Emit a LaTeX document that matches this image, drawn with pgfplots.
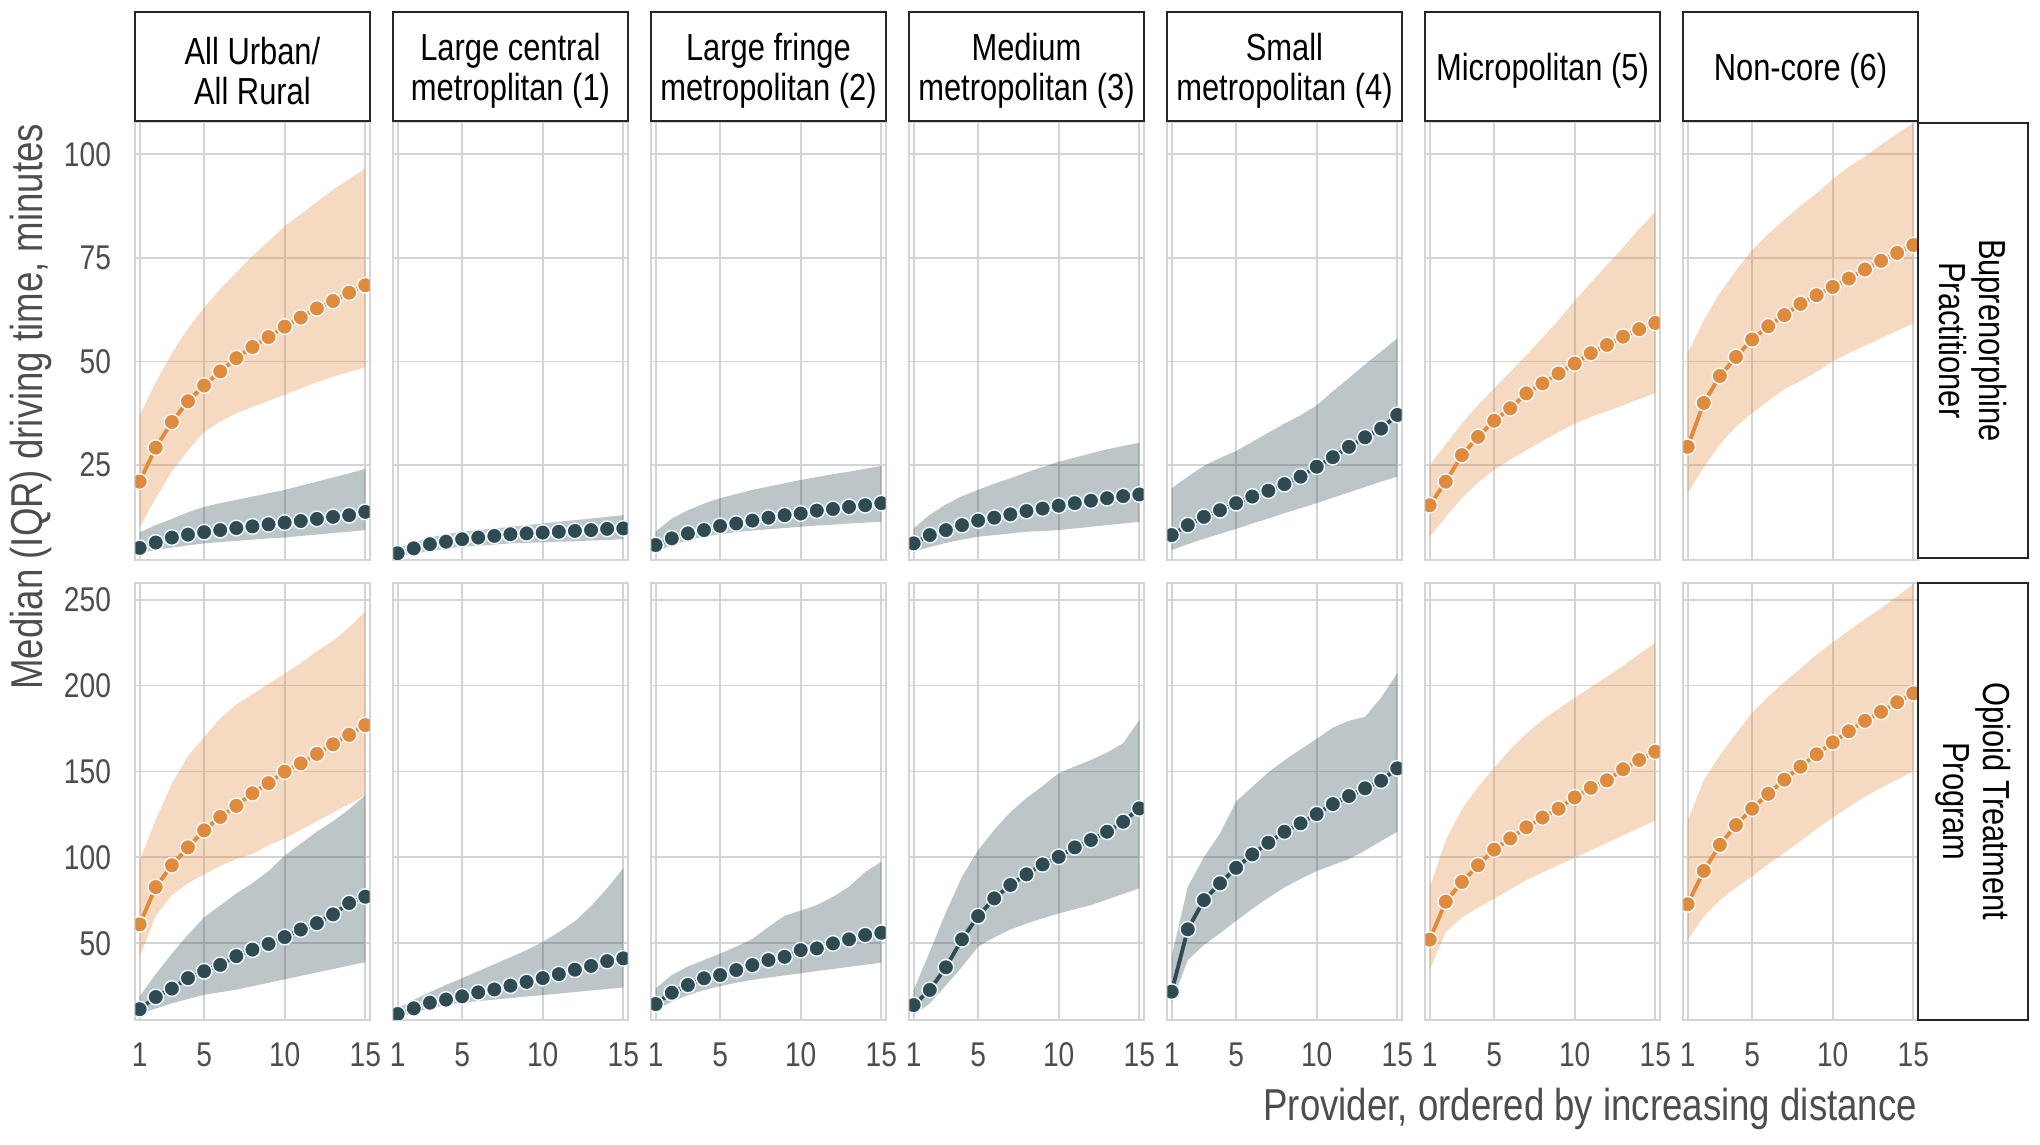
\documentclass[border=0pt]{standalone}
\usepackage{pgfplots}
\pgfplotsset{compat=1.18}
\usepackage{pgfplotstable}
\usepgfplotslibrary{fillbetween}
\usepackage{fontspec}
\setmainfont{Liberation Sans}[FakeStretch=0.82]
\setsansfont{Liberation Sans}[FakeStretch=0.82]

\definecolor{dk}{HTML}{2F4A50}
\definecolor{org}{HTML}{E08A3C}
\definecolor{gridc}{HTML}{D4D4D4}
\definecolor{txt}{HTML}{4D4D4D}

\newcommand\ticksz{\fontsize{10.3}{12}\selectfont}
\newcommand\stripsz{\fontsize{11.3}{12}\selectfont}
\newcommand\titlesz{\fontsize{13.4}{15}\selectfont}

% ---------------- Buprenorphine Practitioner (top row) ----------------
\pgfplotstableread{
x med lo hi
1 21.0 10.0 37.0
2 29.2 17.0 45.0
3 35.4 23.5 52.0
4 40.4 28.5 58.0
5 44.2 33.0 63.0
6 47.6 35.5 67.5
7 50.8 37.5 71.5
8 53.5 39.0 75.5
9 55.9 40.5 79.0
10 58.4 42.0 82.7
11 60.6 43.5 85.5
12 62.8 45.0 88.5
13 64.6 46.3 91.5
14 66.6 47.5 94.0
15 68.4 48.6 96.6
}\bpR
\pgfplotstableread{
x med lo hi
1 5.0 3.8 8.8
2 6.3 4.5 10.5
3 7.5 5.1 12.0
4 8.2 5.6 13.6
5 8.8 6.1 14.9
6 9.3 6.4 15.8
7 9.8 6.7 16.6
8 10.2 7.0 17.4
9 10.7 7.3 18.2
10 11.1 7.5 19.0
11 11.5 7.9 20.0
12 12.0 8.2 21.0
13 12.5 8.6 22.0
14 12.9 8.9 23.0
15 13.7 9.3 24.1
}\bpU
\pgfplotstableread{
x med lo hi
1 3.7 2.9 4.9
2 4.9 3.6 6.3
3 5.9 4.3 7.5
4 6.5 4.8 8.3
5 7.1 5.3 8.9
6 7.5 5.5 9.3
7 7.9 5.8 9.7
8 8.3 6.1 10.1
9 8.5 6.2 10.5
10 8.7 6.4 10.9
11 8.9 6.5 11.3
12 9.1 6.6 11.7
13 9.3 6.8 12.1
14 9.6 6.9 12.5
15 9.7 7.1 12.9
}\bpB
\pgfplotstableread{
x med lo hi
1 5.7 4.1 8.9
2 7.3 5.6 12.1
3 8.5 6.9 14.1
4 9.3 7.7 15.7
5 10.3 8.3 17.0
6 10.9 8.8 18.0
7 11.6 9.2 19.0
8 12.3 9.5 19.8
9 12.9 9.8 20.6
10 13.3 10.1 21.4
11 14.0 10.4 22.1
12 14.4 10.6 22.8
13 14.9 10.9 23.4
14 15.3 11.1 24.1
15 15.8 11.3 24.8
}\bpC
\pgfplotstableread{
x med lo hi
1 6.1 4.1 9.7
2 8.1 5.2 13.0
3 9.3 6.2 15.5
4 10.5 7.0 17.5
5 11.6 7.7 19.0
6 12.3 8.1 20.5
7 13.1 8.5 21.8
8 13.9 8.9 23.2
9 14.5 9.1 24.5
10 15.2 9.3 25.8
11 15.8 9.7 26.8
12 16.4 10.1 27.8
13 17.0 10.5 28.8
14 17.5 10.9 29.6
15 17.9 11.3 30.4
}\bpD
\pgfplotstableread{
x med lo hi
1 8.1 4.5 19.4
2 10.5 5.9 22.2
3 12.5 7.2 24.8
4 14.1 8.4 26.7
5 15.8 9.6 28.4
6 17.4 10.9 30.6
7 18.8 12.1 32.8
8 20.4 13.4 35.0
9 22.2 14.6 37.0
10 24.6 15.8 39.4
11 26.9 17.1 42.8
12 29.4 18.4 46.0
13 31.7 19.7 49.3
14 33.8 21.0 52.4
15 37.1 22.2 55.6
}\bpE
\pgfplotstableread{
x med lo hi
1 15.3 7.7 25.0
2 21.0 12.5 30.0
3 27.4 17.0 35.0
4 31.8 20.8 39.5
5 35.7 23.8 43.5
6 38.7 26.3 47.5
7 42.3 28.6 51.5
8 44.7 30.8 55.7
9 47.1 33.0 60.0
10 49.5 35.0 64.7
11 52.0 36.6 69.0
12 54.0 38.0 73.3
13 56.0 39.4 77.5
14 57.8 40.9 82.0
15 59.3 42.3 86.1
}\bpF
\pgfplotstableread{
x med lo hi
1 29.4 18.2 52.0
2 40.0 24.5 60.0
3 46.5 30.0 66.5
4 51.1 34.3 72.0
5 55.3 37.5 76.9
6 58.5 40.5 80.8
7 61.2 43.3 84.3
8 63.9 45.3 87.5
9 66.0 47.5 90.6
10 68.0 50.0 94.0
11 70.0 52.0 97.0
12 72.2 53.8 99.5
13 74.3 55.6 102.3
14 76.2 57.4 105.0
15 78.1 59.2 107.5
}\bpG

% ---------------- Opioid Treatment Program (bottom row) ----------------
\pgfplotstableread{
x med lo hi
1 61.0 42 98
2 82.7 66 122
3 95.4 78 143
4 105.8 85 159
5 115.7 90 170
6 123.5 95 181
7 130.0 99 189
8 137.3 102 195
9 143.2 107 201
10 149.9 111 207
11 154.7 116 213
12 160.2 121 220
13 165.8 126 226
14 171.3 131 234
15 177.0 136 243
}\otR
\pgfplotstableread{
x med lo hi
1 11.6 9 19
2 18.7 12 32
3 23.6 15 44
4 29.7 17.5 55
5 33.7 20 65
6 37.4 21.5 72
7 42.5 23 79
8 46.3 25 85
9 49.6 27 92
10 53.6 29 101
11 58.0 31 108
12 61.7 33 115
13 66.8 35 121
14 73.4 37 128
15 77.1 39 136
}\otU
\pgfplotstableread{
x med lo hi
1 8.8 6.6 12
2 12.1 9.5 17
3 15.4 12 21.5
4 17.2 14 25.8
5 19.1 15.4 29.7
6 21.4 16.3 33.7
7 23.1 17.2 37.8
8 25.3 18.1 41.9
9 27.5 19 46
10 29.7 19.8 50.7
11 32.0 20.7 56.5
12 34.6 21.6 62.8
13 36.8 22.5 71.6
14 39.6 23.4 82
15 41.2 24.2 93.7
}\otB
\pgfplotstableread{
x med lo hi
1 14.6 11.1 23.7
2 21.2 16 31.5
3 25.7 19.8 36.5
4 29.6 22.8 40.2
5 31.5 25 44
6 34.4 27 48
7 37.3 28.7 52.5
8 40.2 30 59.5
9 42.1 31.3 66
10 46.0 32.5 69
11 47.0 33.8 72.2
12 49.9 35 77
13 52.3 36.3 82.9
14 54.8 37.5 91.5
15 56.1 38.7 97.4
}\otC
\pgfplotstableread{
x med lo hi
1 14.0 8.2 22.8
2 22.8 15 45
3 36.0 25.5 68
4 52.3 36.3 88.7
5 65.8 48 104.2
6 76.1 53.5 116
7 83.9 58 126.3
8 90.1 61.5 134.5
9 95.9 64.5 141.5
10 100.3 67.4 148.9
11 105.8 69.8 153
12 110.1 72.2 156.6
13 114.9 75.5 161
14 120.7 78.7 166.4
15 128.5 82 179.9
}\otD
\pgfplotstableread{
x med lo hi
1 21.8 15 42.2
2 58.1 40.2 82.9
3 75.1 49 100
4 84.9 55.8 114
5 93.9 63 132.5
6 101.7 70 141
7 108.5 76.5 149.5
8 114.9 82.5 156.5
9 119.8 87.5 162.8
10 125.2 92 169
11 131.0 95.5 175.5
12 135.7 99 179.5
13 140.2 104 181.8
14 144.6 109.5 193
15 151.8 114.9 207.1
}\otE
\pgfplotstableread{
x med lo hi
1 52.1 34.7 82.4
2 74.2 56.4 110
3 85.7 65.1 128
4 95.4 70.7 141
5 104.5 75.9 152
6 111.0 81.3 163
7 117.5 86.8 172
8 123.2 91.2 180
9 128.3 95.5 186.5
10 134.9 99.8 192.9
11 140.5 104.1 199
12 144.8 108.4 205
13 151.3 112.8 211.5
14 156.7 117.1 218.3
15 161.5 121.4 225
}\otF
\pgfplotstableread{
x med lo hi
1 72.7 52 121.4
2 92.1 65.5 145
3 107.3 75 159.5
4 118.8 82.5 172
5 128.3 88.9 184.2
6 137.0 96 193.5
7 145.2 102.7 202
8 152.8 109.5 210
9 160.0 116.5 218
10 166.9 123.2 225.2
11 173.4 129.3 232
12 179.5 135.3 238.6
13 184.7 140.5 245
14 190.3 145.3 252
15 195.5 150 259
}\otG

\newcommand{\band}[3]{%
  \addplot[name path=hi#3, draw=none, forget plot] table[x=x,y=hi]{#1};
  \addplot[name path=lo#3, draw=none, forget plot] table[x=x,y=lo]{#1};
  \addplot[fill=#2, fill opacity=0.32, draw=none, forget plot] fill between[of=hi#3 and lo#3];
}
\newcommand{\medline}[2]{%
  \addplot[color=#2, line width=1.15pt, mark=*, mark size=2.35pt,
    mark options={fill=#2, draw=white!92!cyan, line width=0.45pt}] table[x=x,y=med]{#1};
}

\pgfplotsset{
  panel/.style={
    scale only axis, width=70.29pt, xmin=0.73, xmax=15.27,
    xtick={1,5,10,15}, grid=major, grid style={gridc, line width=0.55pt},
    axis line style={gridc, line width=0.6pt}, major tick length=0pt,
    tick label style={font=\ticksz, text=txt},
    /pgf/number format/assume math mode=true,
    xticklabel style={anchor=north, inner sep=0pt, yshift=-6.8pt},
    yticklabel style={anchor=east, inner sep=0pt, xshift=-7.1pt},
    clip marker paths=true, anchor=north west,
  },
  toprow/.style={height=131.25pt, ymin=2.2, ymax=107.8, ytick={25,50,75,100}, xticklabels={}},
  botrow/.style={height=130.9pt, ymin=5.5, ymax=259.5, ytick={50,100,150,200,250}},
  noy/.style={yticklabels={}},
}

\begin{document}
\begin{tikzpicture}

% ---------- top row ----------
\begin{axis}[panel, toprow, at={(40.59pt,-36.6pt)}]
\band{\bpU}{dk}{a}\band{\bpR}{org}{b}
\medline{\bpU}{dk}\medline{\bpR}{org}
\end{axis}
\begin{axis}[panel, toprow, noy, at={(117.99pt,-36.6pt)}]
\band{\bpB}{dk}{a}\medline{\bpB}{dk}
\end{axis}
\begin{axis}[panel, toprow, noy, at={(195.39pt,-36.6pt)}]
\band{\bpC}{dk}{a}\medline{\bpC}{dk}
\end{axis}
\begin{axis}[panel, toprow, noy, at={(272.79pt,-36.6pt)}]
\band{\bpD}{dk}{a}\medline{\bpD}{dk}
\end{axis}
\begin{axis}[panel, toprow, noy, at={(350.19pt,-36.6pt)}]
\band{\bpE}{dk}{a}\medline{\bpE}{dk}
\end{axis}
\begin{axis}[panel, toprow, noy, at={(427.59pt,-36.6pt)}]
\band{\bpF}{org}{a}\medline{\bpF}{org}
\end{axis}
\begin{axis}[panel, toprow, noy, at={(504.99pt,-36.6pt)}]
\band{\bpG}{org}{a}\medline{\bpG}{org}
\end{axis}

% ---------- bottom row ----------
\begin{axis}[panel, botrow, at={(40.59pt,-175pt)}]
\band{\otU}{dk}{a}\band{\otR}{org}{b}
\medline{\otU}{dk}\medline{\otR}{org}
\end{axis}
\begin{axis}[panel, botrow, noy, at={(117.99pt,-175pt)}]
\band{\otB}{dk}{a}\medline{\otB}{dk}
\end{axis}
\begin{axis}[panel, botrow, noy, at={(195.39pt,-175pt)}]
\band{\otC}{dk}{a}\medline{\otC}{dk}
\end{axis}
\begin{axis}[panel, botrow, noy, at={(272.79pt,-175pt)}]
\band{\otD}{dk}{a}\medline{\otD}{dk}
\end{axis}
\begin{axis}[panel, botrow, noy, at={(350.19pt,-175pt)}]
\band{\otE}{dk}{a}\medline{\otE}{dk}
\end{axis}
\begin{axis}[panel, botrow, noy, at={(427.59pt,-175pt)}]
\band{\otF}{org}{a}\medline{\otF}{org}
\end{axis}
\begin{axis}[panel, botrow, noy, at={(504.99pt,-175pt)}]
\band{\otG}{org}{a}\medline{\otG}{org}
\end{axis}

% ---------- strips ----------
\tikzset{
  stripbox/.style={draw=black!85, line width=0.6pt, fill=white},
  striptext/.style={inner sep=0pt, align=center, font=\stripsz, text=black}}
\foreach \cx/\lab in {75.735/{All Urban/\\All Rural},
                      153.135/{Large central\\metroplitan (1)},
                      230.535/{Large fringe\\metropolitan (2)},
                      307.935/{Medium\\metropolitan (3)},
                      385.335/{Small\\metropolitan (4)},
                      462.735/{Micropolitan (5)},
                      540.135/{Non-core (6)}}{
  \draw[stripbox] ({\cx pt-35.145pt},-3.45pt) rectangle ({\cx pt+35.145pt},-36.3pt);
  \node[striptext] at (\cx pt,-21.2pt) {\lab};
}

\draw[stripbox] (575.5pt,-36.8pt) rectangle (608.3pt,-167.4pt);
\node[striptext, rotate=-90] at (591.9pt,-102.1pt) {Buprenorphine\\Practitioner};
\draw[stripbox] (575.5pt,-174.9pt) rectangle (608.3pt,-305.9pt);
\node[striptext, rotate=-90] at (591.9pt,-240.4pt) {Opioid Treatment\\Program};

% ---------- axis titles ----------
\node[rotate=90, anchor=center, inner sep=0pt, font=\titlesz, text=txt] at (9.3pt,-122pt) {Median (IQR) driving time, minutes};
\node[anchor=base east, inner sep=0pt, font=\titlesz, text=txt] at (575.3pt,-336pt) {Provider, ordered by increasing distance};

% page extent
\path (0pt,0pt) rectangle (612pt,-343.2pt);
\end{tikzpicture}
\end{document}
